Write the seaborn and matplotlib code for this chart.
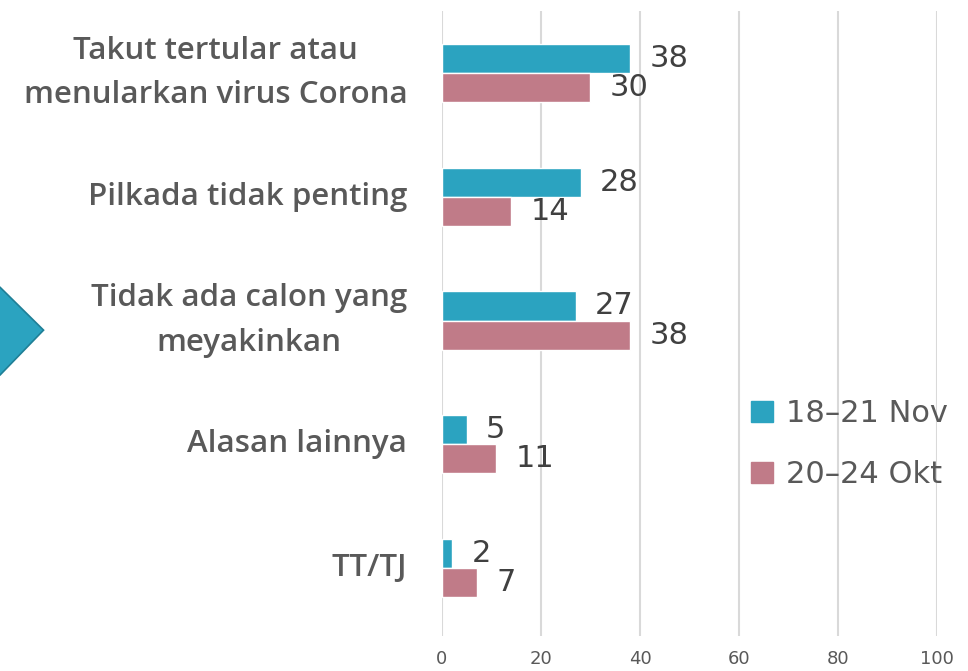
import seaborn as sns
import pandas as pd
import numpy as np
import matplotlib.pyplot as plt
from matplotlib.patches import Polygon, Patch

categories = ['Takut tertular atau\nmenularkan virus Corona', 'Pilkada tidak penting',
              'Tidak ada calon yang\nmeyakinkan', 'Alasan lainnya', 'TT/TJ']
series = ['18–21 Nov', '20–24 Okt']
nov = [38, 28, 27, 5, 2]
okt = [30, 14, 38, 11, 7]
colors = {'18–21 Nov': '#2ba3c0', '20–24 Okt': '#c07b88'}

df = pd.DataFrame({
    'Alasan': categories * 2,
    'Survei': [series[0]] * len(nov) + [series[1]] * len(okt),
    'Persen': nov + okt,
})

sns.set_style('white')
plt.rcParams['font.family'] = ['DejaVu Sans']

fig = plt.figure(figsize=(9.68, 6.71), dpi=100)
ax = fig.add_axes([0.4566, 0.052, 0.5114, 0.9314])

sns.barplot(data=df, x='Persen', y='Alasan', hue='Survei', palette=colors,
            orient='h', width=0.47, saturation=1, order=categories, hue_order=series,
            legend=False, ax=ax)

for cont in ax.containers:
    ax.bar_label(cont, padding=14, fontsize=22, color='#404040')

ax.set_xlim(0, 100)
ax.set_ylim(4.55, -0.5)
ax.set_xticks(np.arange(0, 101, 20))
ax.set_xlabel('')
ax.set_ylabel('')
ax.grid(axis='x', color='#d9d9d9', lw=1.5)
ax.grid(axis='y', visible=False)
ax.set_axisbelow(True)
for s in ax.spines.values():
    s.set_visible(False)
ax.tick_params(axis='x', length=0, labelsize=13, labelcolor='#595959', pad=10)
ax.tick_params(axis='y', length=0, pad=25)
for lab in ax.get_yticklabels():
    lab.set_family(['Open Sans', 'DejaVu Sans'])
    lab.set_fontsize(22.5)
    lab.set_fontweight('semibold')
    lab.set_color('#595959')
    lab.set_multialignment('center')
    lab.set_linespacing(1.65)
    lab.set_va('center')

handles = [Patch(color=colors[s], label=s) for s in series]
ax.legend(handles=handles, loc='center left', bbox_to_anchor=(0.568, 0.307),
          frameon=False, fontsize=22, labelcolor='#595959',
          handlelength=0.72, handleheight=0.72, handletextpad=0.45, labelspacing=1.05)

# teal arrow shape at the left edge
arrow = Polygon([(-0.02, 0.572), (0.0, 0.572), (0.045, 0.508), (0.0, 0.441), (-0.02, 0.441)],
                closed=True, transform=fig.transFigure, facecolor='#2ba3c0',
                edgecolor='#1f7f96', lw=1.2, clip_on=False)
fig.patches.append(arrow)

fig.savefig('out.png', dpi=100)
